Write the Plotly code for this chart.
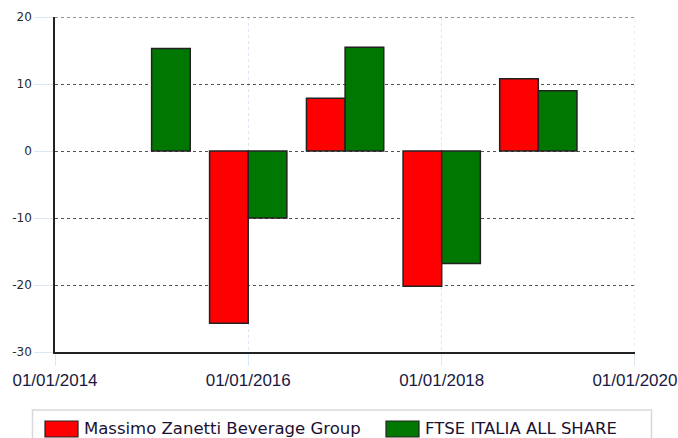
import plotly.graph_objects as go

years = ["2015-01-01", "2016-01-01", "2017-01-01", "2018-01-01", "2019-01-01"]
series_names = ["Massimo Zanetti Beverage Group", "FTSE ITALIA ALL SHARE"]
series_colors = ["#ff0000", "#007700"]
zanetti = [None, -25.7, 7.9, -20.2, 10.8]
ftse = [15.3, -10.0, 15.5, -16.8, 9.0]
x_ticks = ["2014-01-01", "2016-01-01", "2018-01-01", "2020-01-01"]
x_tick_labels = ["01/01/2014", "01/01/2016", "01/01/2018", "01/01/2020"]
y_ticks = [20, 10, 0, -10, -20, -30]
y_tick_labels = ["20", "10", "0", "-10", "-20", "-30"]

W, H = 678, 438
L, R, T, B = 55, 43, 17, 86
pw, ph = W - L - R, H - T - B

fig = go.Figure()
for name, vals, col in zip(series_names, [zanetti, ftse], series_colors):
    fig.add_trace(go.Bar(x=years, y=vals, name=name,
                         marker=dict(color=col, line=dict(color="#222222", width=1.5))))

def px_x(px):
    return (px - L) / pw

def px_y(py):
    return (H - B - py) / ph

shapes = [
    dict(type="rect", xref="paper", yref="paper",
         x0=px_x(32.5), x1=px_x(651.5), y0=px_y(445), y1=px_y(410),
         line=dict(color="#d8d8d8", width=1.5), fillcolor="rgba(0,0,0,0)"),
    # top grid line (at max y tick) and right grid line (at last x tick)
    dict(type="line", xref="paper", yref="y", x0=0, x1=1, y0=y_ticks[0], y1=y_ticks[0],
         line=dict(color="#555555", width=1, dash="dot")),
    dict(type="line", xref="x", yref="paper", x0=x_ticks[-1], x1=x_ticks[-1], y0=0, y1=1,
         line=dict(color="#dbe6f5", width=1, dash="dot")),
]
annotations = []
legend_x = [45, 386]
for lx, name, col in zip(legend_x, series_names, series_colors):
    shapes.append(dict(type="rect", xref="paper", yref="paper",
                       x0=px_x(lx), x1=px_x(lx + 33), y0=px_y(437), y1=px_y(421),
                       line=dict(color="#222222", width=1.2), fillcolor=col))
    annotations.append(dict(xref="paper", yref="paper", x=px_x(lx + 37), y=px_y(428),
                            xanchor="left", yanchor="middle", showarrow=False,
                            text=name, font=dict(family="DejaVu Sans", size=16.5, color="#1a1030")))

fig.update_layout(
    width=W, height=H,
    margin=dict(l=L, r=R, t=T, b=B),
    paper_bgcolor="white", plot_bgcolor="white",
    barmode="group", bargap=0.2, bargroupgap=0,
    font=dict(family="Liberation Sans", color="#222222"),
    showlegend=False,
    xaxis=dict(type="date", range=["2014-01-01", "2020-01-01 06:00"],
               tickvals=x_ticks, ticktext=x_tick_labels,
               tickfont=dict(size=17, color="#1a1a40", family="Liberation Sans"),
               showgrid=True, gridcolor="#dbe6f5", griddash="dot", gridwidth=1,
               ticks="outside", ticklen=12, tickcolor="#dbe6f5",
               showline=True, linecolor="#222222", linewidth=1.5,
               zeroline=False, automargin=False),
    yaxis=dict(range=[-30, 20.02], tickvals=y_ticks, ticktext=y_tick_labels,
               tickfont=dict(size=12, color="#2a2a2a", family="DejaVu Sans"),
               showgrid=True, gridcolor="#555555", griddash="dot", gridwidth=1,
               ticks="outside", ticklen=19, tickcolor="#dbe6f5",
               showline=True, linecolor="#222222", linewidth=1.5,
               zeroline=False, automargin=False),
    shapes=shapes,
    annotations=annotations,
)

fig.write_html("out.html", config={"displayModeBar": False},
               post_script="document.body.style.margin='0';document.body.style.overflow='hidden';")
